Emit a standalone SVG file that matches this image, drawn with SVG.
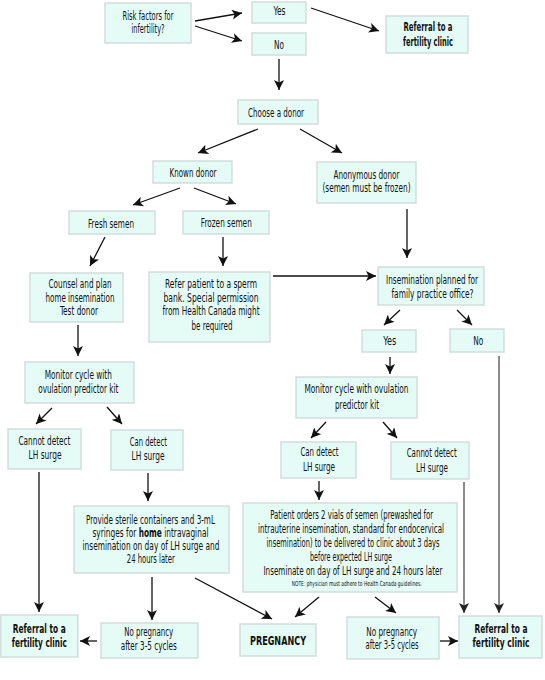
<svg xmlns="http://www.w3.org/2000/svg" width="545" height="680" viewBox="0 0 545 680">
<style>
.b{fill:#e4fbf6;stroke:#d2dedb;stroke-width:1.5}
text{font-family:"DejaVu Sans Condensed","Liberation Sans",sans-serif;font-size:12px;fill:#111;text-anchor:middle}
.bd{font-weight:bold}
.sm{font-size:7px}
.c line{stroke:#111;stroke-width:1.3;marker-end:url(#ah)}
.c line.g{stroke:#6e6e6e;stroke-width:1.6;marker-end:url(#ag)}
</style>
<defs>
<marker id="ah" markerUnits="userSpaceOnUse" markerWidth="11" markerHeight="10" refX="10" refY="5" orient="auto"><path d="M0,0 L10,5 L0,10 L2.5,5 z" fill="#111"/></marker>
<marker id="ag" markerUnits="userSpaceOnUse" markerWidth="11" markerHeight="10" refX="10" refY="5" orient="auto"><path d="M0,0 L10,5 L0,10 L2.5,5 z" fill="#222"/></marker>
</defs>
<rect width="545" height="680" fill="#fff"/>
<g class="c" id="connectors">
<line x1="195" y1="21" x2="242" y2="13"/>
<line x1="195" y1="26" x2="242" y2="41"/>
<line x1="311" y1="8" x2="379" y2="31"/>
<line x1="279" y1="59" x2="279" y2="90"/>
<line x1="258" y1="129" x2="198" y2="153"/>
<line x1="300" y1="129" x2="342" y2="153"/>
<line x1="180" y1="188" x2="133" y2="205"/>
<line x1="194" y1="188" x2="236" y2="204"/>
<line x1="105" y1="237" x2="90" y2="266"/>
<line x1="223" y1="237" x2="223" y2="266"/>
<line x1="407" y1="209" x2="407" y2="258"/>
<line x1="273" y1="276" x2="376" y2="276"/>
<line x1="78" y1="325" x2="78" y2="356"/>
<line x1="52" y1="408" x2="36" y2="424"/>
<line x1="107" y1="407" x2="122" y2="424"/>
<line x1="148" y1="473" x2="148" y2="501"/>
<line x1="39" y1="472" x2="39" y2="612"/>
<line x1="400" y1="310" x2="384" y2="325"/>
<line x1="457" y1="310" x2="472" y2="325"/>
<line x1="390" y1="357" x2="390" y2="374"/>
<line class="g" x1="499" y1="356" x2="499" y2="613"/>
<line x1="326" y1="422" x2="311" y2="438"/>
<line x1="383" y1="422" x2="397" y2="438"/>
<line x1="319" y1="481" x2="319" y2="500"/>
<line class="g" x1="464" y1="482" x2="464" y2="613"/>
<line x1="152" y1="577" x2="152" y2="620"/>
<line x1="195" y1="578" x2="272" y2="619"/>
<line x1="319" y1="597" x2="295" y2="617"/>
<line x1="375" y1="597" x2="396" y2="613"/>
<line x1="97" y1="641" x2="80" y2="641"/>
<line x1="440" y1="641" x2="458" y2="641"/>
</g>
<g id="risk"><rect class="b" x="105" y="3" width="86" height="40"/><text x="148" y="19.5" textLength="51" lengthAdjust="spacingAndGlyphs">Risk factors for</text><text x="148" y="32.5" textLength="33" lengthAdjust="spacingAndGlyphs">infertility?</text></g>
<g id="yes1"><rect class="b" x="252" y="2" width="54" height="21"/><text x="279.5" y="14.5" textLength="12" lengthAdjust="spacingAndGlyphs">Yes</text></g>
<g id="no1"><rect class="b" x="252" y="33" width="54" height="22"/><text x="279" y="48.5" textLength="10" lengthAdjust="spacingAndGlyphs">No</text></g>
<g id="ref1"><rect class="b" x="386" y="16" width="82" height="37"/><text class="bd" x="428" y="30.5" textLength="49" lengthAdjust="spacingAndGlyphs">Referral to a</text><text class="bd" x="428" y="45.5" textLength="50" lengthAdjust="spacingAndGlyphs">fertility clinic</text></g>
<g id="choose"><rect class="b" x="238" y="100" width="80" height="24"/><text x="276" y="116.5" textLength="56" lengthAdjust="spacingAndGlyphs">Choose a donor</text></g>
<g id="known"><rect class="b" x="153" y="161" width="79" height="22"/><text x="193" y="176.5" textLength="47" lengthAdjust="spacingAndGlyphs">Known donor</text></g>
<g id="anon"><rect class="b" x="317" y="162" width="99" height="41"/><text x="366.5" y="178.5" textLength="66" lengthAdjust="spacingAndGlyphs">Anonymous donor</text><text x="366.5" y="191.5" textLength="88" lengthAdjust="spacingAndGlyphs">(semen must be frozen)</text></g>
<g id="fresh"><rect class="b" x="69" y="211" width="86" height="23"/><text x="111" y="227.5" textLength="46" lengthAdjust="spacingAndGlyphs">Fresh semen</text></g>
<g id="frozen"><rect class="b" x="183" y="211" width="86" height="23"/><text x="226.3" y="226.5" textLength="51" lengthAdjust="spacingAndGlyphs">Frozen semen</text></g>
<g id="counsel"><rect class="b" x="30" y="273" width="93" height="49"/><text x="80" y="287.5" textLength="63" lengthAdjust="spacingAndGlyphs">Counsel and plan</text><text x="80" y="301.5" textLength="69" lengthAdjust="spacingAndGlyphs">home insemination</text><text x="79" y="314.5" textLength="38" lengthAdjust="spacingAndGlyphs">Test donor</text></g>
<g id="refer"><rect class="b" x="149" y="272" width="121" height="70"/><text x="211" y="287.5" textLength="92" lengthAdjust="spacingAndGlyphs">Refer patient to a sperm</text><text x="211" y="301.5" textLength="95" lengthAdjust="spacingAndGlyphs">bank.  Special permission</text><text x="211" y="314.5" textLength="97" lengthAdjust="spacingAndGlyphs">from Health Canada might</text><text x="212" y="329.5" textLength="41" lengthAdjust="spacingAndGlyphs">be required</text></g>
<g id="insem"><rect class="b" x="378" y="267" width="106" height="38"/><text x="432" y="283.5" textLength="92" lengthAdjust="spacingAndGlyphs">Insemination planned for</text><text x="432.5" y="297.5" textLength="82" lengthAdjust="spacingAndGlyphs">family practice office?</text></g>
<g id="yes2"><rect class="b" x="362" y="330" width="54" height="22"/><text x="389.7" y="344.5" textLength="13" lengthAdjust="spacingAndGlyphs">Yes</text></g>
<g id="no2"><rect class="b" x="450" y="329" width="54" height="23"/><text x="478.3" y="344.5" textLength="10" lengthAdjust="spacingAndGlyphs">No</text></g>
<g id="monL"><rect class="b" x="25" y="362" width="109" height="41"/><text x="78.3" y="378.5" textLength="67" lengthAdjust="spacingAndGlyphs">Monitor cycle with</text><text x="78.3" y="392.5" textLength="80" lengthAdjust="spacingAndGlyphs">ovulation predictor kit</text></g>
<g id="monR"><rect class="b" x="296" y="377" width="121" height="41"/><text x="356.5" y="392.5" textLength="104" lengthAdjust="spacingAndGlyphs">Monitor cycle with ovulation</text><text x="357" y="408.5" textLength="44" lengthAdjust="spacingAndGlyphs">predictor kit</text></g>
<g id="cannotL"><rect class="b" x="8" y="429" width="73" height="40"/><text x="44.5" y="444.5" textLength="52" lengthAdjust="spacingAndGlyphs">Cannot detect</text><text x="45" y="458.5" textLength="33" lengthAdjust="spacingAndGlyphs">LH surge</text></g>
<g id="canL"><rect class="b" x="111" y="430" width="72" height="40"/><text x="148.3" y="445.5" textLength="37" lengthAdjust="spacingAndGlyphs">Can detect</text><text x="148" y="459.5" textLength="33" lengthAdjust="spacingAndGlyphs">LH surge</text></g>
<g id="canR"><rect class="b" x="281" y="442" width="75" height="36"/><text x="319.5" y="455.5" textLength="38" lengthAdjust="spacingAndGlyphs">Can detect</text><text x="319" y="470.5" textLength="32" lengthAdjust="spacingAndGlyphs">LH surge</text></g>
<g id="cannotR"><rect class="b" x="391" y="442" width="78" height="37"/><text x="431.7" y="456.5" textLength="50" lengthAdjust="spacingAndGlyphs">Cannot detect</text><text x="432" y="471.5" textLength="32" lengthAdjust="spacingAndGlyphs">LH surge</text></g>
<g id="provide"><rect class="b" x="74" y="506" width="155" height="67"/><text x="150.5" y="523.5" textLength="129" lengthAdjust="spacingAndGlyphs">Provide sterile containers and 3-mL</text><text x="150.5" y="536.5" textLength="116" lengthAdjust="spacingAndGlyphs">syringes for <tspan class="bd">home</tspan> intravaginal</text><text x="151" y="549.5" textLength="137" lengthAdjust="spacingAndGlyphs">insemination on day of LH surge and</text><text x="150.8" y="562.5" textLength="48" lengthAdjust="spacingAndGlyphs">24 hours later</text></g>
<g id="patient"><rect class="b" x="243" y="503" width="214" height="89"/><text x="351.7" y="518.5" textLength="163" lengthAdjust="spacingAndGlyphs">Patient orders 2 vials of semen (prewashed for</text><text x="351" y="532.5" textLength="186" lengthAdjust="spacingAndGlyphs">intrauterine insemination, standard for endocervical</text><text x="353" y="546.5" textLength="173" lengthAdjust="spacingAndGlyphs">insemination) to be delivered to clinic about 3 days</text><text x="351" y="560.5" textLength="82" lengthAdjust="spacingAndGlyphs">before expected LH surge</text><text x="353" y="574.5" textLength="179" lengthAdjust="spacingAndGlyphs">Inseminate on day of LH surge and 24 hours later</text><text class="sm" x="356.7" y="585.5" textLength="130" lengthAdjust="spacingAndGlyphs">NOTE: physician must adhere to Health Canada guidelines.</text></g>
<g id="refL"><rect class="b" x="0.75" y="615" width="77" height="42"/><text class="bd" x="39.3" y="632.5" textLength="53" lengthAdjust="spacingAndGlyphs">Referral to a</text><text class="bd" x="39.3" y="646.5" textLength="55" lengthAdjust="spacingAndGlyphs">fertility clinic</text></g>
<g id="nopregL"><rect class="b" x="101" y="623" width="97" height="35"/><text x="148.7" y="635.5" textLength="49" lengthAdjust="spacingAndGlyphs">No pregnancy</text><text x="148.7" y="649.5" textLength="56" lengthAdjust="spacingAndGlyphs">after 3-5 cycles</text></g>
<g id="preg"><rect class="b" x="240" y="624" width="76" height="32"/><text class="bd" x="278" y="645" textLength="56" lengthAdjust="spacingAndGlyphs">PREGNANCY</text></g>
<g id="nopregR"><rect class="b" x="347" y="617" width="92" height="42"/><text x="391.7" y="635.5" textLength="51" lengthAdjust="spacingAndGlyphs">No pregnancy</text><text x="392" y="648.5" textLength="53" lengthAdjust="spacingAndGlyphs">after 3-5 cycles</text></g>
<g id="refR"><rect class="b" x="459" y="616" width="83" height="42"/><text class="bd" x="501" y="632.5" textLength="53" lengthAdjust="spacingAndGlyphs">Referral to a</text><text class="bd" x="501" y="646.5" textLength="57" lengthAdjust="spacingAndGlyphs">fertility clinic</text></g>
</svg>
